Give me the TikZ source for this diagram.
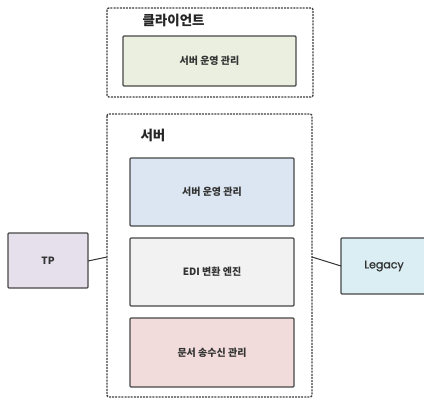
\documentclass[tikz,border=0pt]{standalone}
\usepackage{fontspec}
\setmainfont{Noto Sans CJK KR}
\newfontfamily\latinfont[FakeBold=1.2]{Poppins}
\begin{document}
\begin{tikzpicture}[x=1pt,y=-1pt,
  group/.style={draw=black!75, line width=1.4pt, dash pattern=on 2pt off 1.1pt, rounded corners=2pt},
  box/.style={draw=black!72, line width=1.3pt, rounded corners=1pt},
  lbl/.style={font=\bfseries\fontsize{10}{12}\selectfont, text=black!80},
  lat/.style={font=\latinfont\fontsize{11}{13}\selectfont, text=black!80},
  ttl/.style={font=\bfseries\fontsize{13.5}{16}\selectfont, text=black!85, anchor=west},
  conn/.style={draw=black!80, line width=1pt}]
\useasboundingbox[fill=white] (0,0) rectangle (424,400);
% client group
\draw[group] (107,8) rectangle (313,97);
\node[ttl] (clienttitle) at (139,20) {클라이언트};
\draw[box, fill={rgb,255:red,235;green,239;blue,223}] (123,36) rectangle (296,86);
\node[lbl] (clientmgmt) at (209.5,61) {서버 운영 관리};
% server group
\draw[group] (107,114) rectangle (312,397);
\coordinate (srvL) at (107,257);
\coordinate (srvR) at (312,257);
\node[ttl] (servertitle) at (137,135) {서버};
\draw[box, fill={rgb,255:red,220;green,230;blue,242}] (130,158) rectangle (294,226);
\node[lbl] (srvmgmt) at (212,192) {서버 운영 관리};
\draw[box, fill={rgb,255:red,242;green,242;blue,242}] (130,238) rectangle (294,306);
\node[lbl] (edi) at (212,272) {EDI 변환 엔진};
\draw[box, fill={rgb,255:red,242;green,220;blue,219}] (130,318) rectangle (294,387);
\node[lbl] (doc) at (212,352.5) {문서 송수신 관리};
% TP
\draw[box, fill={rgb,255:red,230;green,224;blue,236}] (8,233) rectangle (88,288);
\node[lbl] (tp) at (48,260.5) {TP};
\coordinate (tpR) at (88,261);
% Legacy
\draw[box, fill={rgb,255:red,219;green,238;blue,244}] (341,238) rectangle (432,294);
\node[lat] (legacy) at (384,266) {Legacy};
\coordinate (legL) at (341,266);
% connectors
\draw[conn] (tpR) -- (srvL);
\draw[conn] (srvR) -- (legL);
\end{tikzpicture}
\end{document}
